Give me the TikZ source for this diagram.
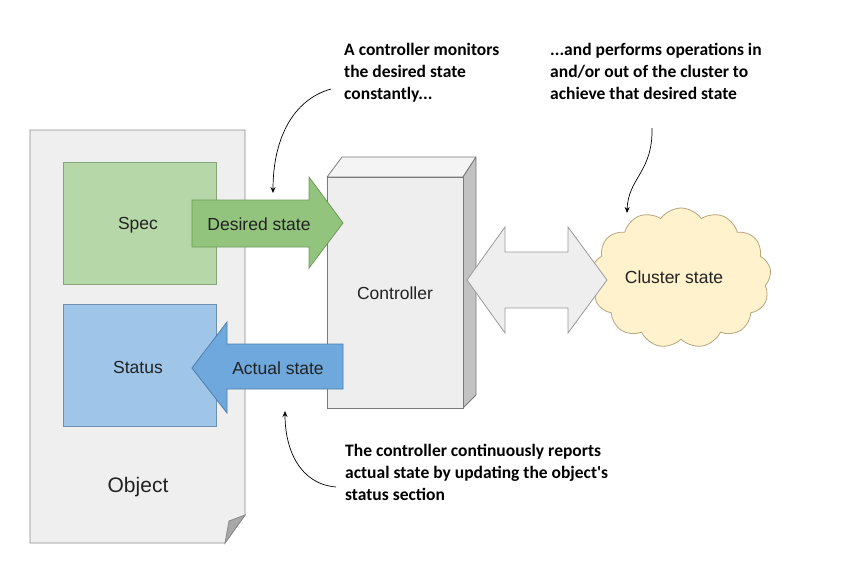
\documentclass[tikz,border=0pt]{standalone}
\usepackage{fontspec}
\setmainfont{Liberation Sans}
\newfontfamily\notefont{Carlito}
\usetikzlibrary{shapes.symbols,arrows.meta}
\definecolor{pagefill}{HTML}{EFEFEF}
\definecolor{pagedraw}{HTML}{8A8A8A}
\definecolor{foldfill}{HTML}{A8A8A8}
\definecolor{specfill}{HTML}{B6D7A8}
\definecolor{specdraw}{HTML}{86A37A}
\definecolor{statfill}{HTML}{9FC5E8}
\definecolor{statdraw}{HTML}{6F8FAE}
\definecolor{desfill}{HTML}{93C47D}
\definecolor{desdraw}{HTML}{6C9A58}
\definecolor{actfill}{HTML}{6FA8DC}
\definecolor{actdraw}{HTML}{4C7FAE}
\definecolor{ctlfront}{HTML}{EEEEEE}
\definecolor{ctltop}{HTML}{F4F4F4}
\definecolor{ctlside}{HTML}{C2C2C2}
\definecolor{ctldraw}{HTML}{7A7A7A}
\definecolor{dblfill}{HTML}{EEEEEE}
\definecolor{dbldraw}{HTML}{9A9A9A}
\definecolor{cloudfill}{HTML}{FFF2CC}
\definecolor{clouddraw}{HTML}{B5A57E}
\definecolor{txt}{HTML}{222222}
\begin{document}
\begin{tikzpicture}[x=1pt,y=-1pt,
  lbl/.style={text=txt,font=\fontsize{17.5}{20}\selectfont,inner sep=0pt},
  boxnode/.style={draw,line width=0.8pt,inner sep=0pt},
  blockarrow/.style={line width=0.8pt,line join=miter},
  note/.style={text=black,font=\notefont\bfseries\fontsize{17.5}{22}\selectfont,align=left,inner sep=0pt,anchor=base west},
  notearrow/.style={-{Stealth[length=6pt,width=5pt]},line width=0.7pt,black}]
\useasboundingbox (0,0) rectangle (859,563);

% Object page
\draw[fill=pagefill,draw=pagedraw,line width=0.9pt,line join=miter]
  (30,130) -- (245,130) -- (245,515) -- (225,543) -- (30,543) -- cycle;
\draw[fill=foldfill,draw=pagedraw,line width=0.8pt]
  (245,515) -- (229,521) -- (225,543) -- cycle;
\node[lbl,font=\fontsize{21}{24}\selectfont] (object) at (138,487) {Object};

% Spec and Status
\node[boxnode,fill=specfill,draw=specdraw,minimum width=153,minimum height=122] (spec) at (139.5,223) {};
\node[lbl] (spectxt) at (138,225) {Spec};
\node[boxnode,fill=statfill,draw=statdraw,minimum width=153,minimum height=122] (status) at (139.5,365) {};
\node[lbl] (stattxt) at (138,367) {Status};

% Controller
\draw[fill=ctltop,draw=ctldraw,line width=0.8pt,line join=round]
  (327,177) -- (342,157) -- (476,157) -- (463,177) -- cycle;
\draw[fill=ctlside,draw=ctldraw,line width=0.8pt,line join=round]
  (463,177) -- (476,157) -- (476,395) -- (463,408) -- cycle;
\node[boxnode,fill=ctlfront,draw=ctldraw,minimum width=136,minimum height=231,anchor=north west] (ctl) at (327,177) {};
\node[lbl] (ctltxt) at (395,293) {Controller};

% Desired state arrow
\draw[blockarrow,fill=desfill,draw=desdraw]
  (192,200) -- (309,200) -- (309,177) -- (343,223) -- (309,268) -- (309,247) -- (192,247) -- cycle;
\node[lbl] (destxt) at (259,224) {Desired state};

% Actual state arrow
\draw[blockarrow,fill=actfill,draw=actdraw]
  (192,368) -- (227,322) -- (227,344) -- (343,344) -- (343,389) -- (227,389) -- (227,413) -- cycle;
\node[lbl] (acttxt) at (278,368) {Actual state};

% Cloud
\node[cloud,cloud puffs=13,cloud puff arc=110,aspect=1.3,draw=clouddraw,fill=cloudfill,line width=0.8pt,
  minimum width=180,minimum height=140,inner sep=0pt] (cloud) at (681,278) {};
\node[lbl] (cloudtxt) at (674,277) {Cluster state};

% Double arrow
\draw[blockarrow,fill=dblfill,draw=dbldraw]
  (467,280) -- (505,227) -- (505,252) -- (568,252) -- (568,227) -- (607,280)
  -- (568,333) -- (568,308) -- (505,308) -- (505,333) -- cycle;

% Notes (base anchor = baseline of last line)
\node[note] (n1) at (344,99) {A controller monitors\\the desired state\\constantly...};
\node[note] (n2) at (550,99) {...and performs operations in\\and/or out of the cluster to\\achieve that desired state};
\node[note] (n3) at (345,500) {The controller continuously reports\\actual state by updating the object's\\status section};

\coordinate (a1s) at (331,89);
\coordinate (a1e) at (273,193);
\coordinate (a2s) at (652,128);
\coordinate (a2e) at (627,213);
\coordinate (a3s) at (336,487);
\coordinate (a3e) at (285,411);
\draw[notearrow] (a1s) .. controls (292,100) and (273,140) .. (a1e);
\draw[notearrow] (a2s) .. controls (653,172) and (628,178) .. (a2e);
\draw[notearrow] (a3s) .. controls (300,484) and (285,450) .. (a3e);
\end{tikzpicture}
\end{document}
